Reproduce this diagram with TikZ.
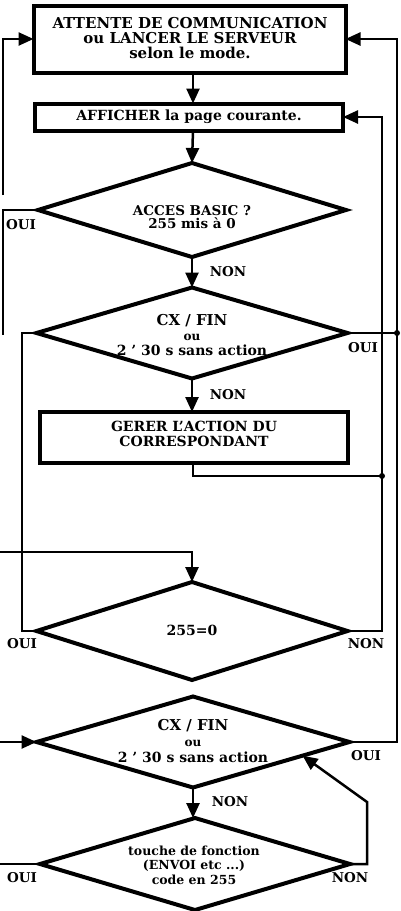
\documentclass[tikz,border=0pt]{standalone}
\usepackage{fontspec}
\setmainfont{DejaVu Serif}
\usetikzlibrary{shapes.geometric,arrows.meta,calc}
\begin{document}
\begin{tikzpicture}[x=1pt,y=-1pt,
  shapeline/.style={line width=4pt},
  boxnode/.style={draw,shapeline,rectangle,inner sep=0pt,outer sep=0pt},
  dia/.style={draw,shapeline,diamond,inner sep=0pt,outer sep=0pt,aspect=3.4},
  conn/.style={line width=2.5pt},
  arr/.style={conn,-{Triangle[length=15pt,width=13pt]}},
  txt/.style={font=\fontsize{14}{15}\selectfont\bfseries,align=center,inner sep=0pt},
  stxt/.style={font=\fontsize{12.5}{14.5}\selectfont\bfseries,align=center,inner sep=0pt},
  lbl/.style={font=\fontsize{13.5}{13}\selectfont\bfseries,inner sep=0pt},
  dot/.style={circle,fill,inner sep=0pt,minimum size=6pt}
]
\useasboundingbox (0,0) rectangle (400,911);
% shapes
\node[boxnode,minimum width=312pt,minimum height=67pt] (box1) at (189.5,39) {};
\node[boxnode,minimum width=308pt,minimum height=27pt] (box2) at (189,117) {};
\node[dia,minimum width=308pt,minimum height=94pt] (d1) at (192,210) {};
\node[dia,minimum width=311pt,minimum height=91pt] (d2) at (192,333) {};
\node[boxnode,minimum width=308pt,minimum height=51pt] (box3) at (194,437.5) {};
\node[dia,minimum width=311pt,minimum height=98pt] (d3) at (192,631) {};
\node[dia,minimum width=313pt,minimum height=91pt] (d4) at (193,742) {};
\node[dia,minimum width=310pt,minimum height=92pt] (d5) at (195,864) {};
% texts
\node[txt,font=\fontsize{15}{15}\selectfont\bfseries] (t1) at (190,38) {ATTENTE DE COMMUNICATION\\ou LANCER LE SERVEUR\\selon le mode.};
\node[txt] (t2) at (189,117) {AFFICHER la page courante.};
\node[txt,font=\fontsize{13.5}{12.5}\selectfont\bfseries] (t3) at (192,217) {ACCES BASIC ?\\255 mis à 0};
\node[txt] (t4) at (192,335) {{\fontsize{15}{14}\selectfont CX / FIN}\\{\fontsize{12}{14}\selectfont ou}\\2 ’ 30 s sans action};
\node[txt] (t5) at (194,434) {GERER L’ACTION DU\\CORRESPONDANT};
\node[txt] (t6) at (192,630) {255=0};
\node[txt,font=\fontsize{14}{16}\selectfont\bfseries] (t7) at (193,741) {{\fontsize{15}{16}\selectfont CX / FIN}\\{\fontsize{12}{16}\selectfont ou}\\2 ’ 30 s sans action};
\node[stxt] (t8) at (194,865) {touche de fonction\\(ENVOI etc ...)\\code en 255};
% labels
\node[lbl] (o1) at (21,225) {OUI};
\node[lbl] (n1) at (228,272) {NON};
\node[lbl] (o2) at (363,348) {OUI};
\node[lbl] (n2) at (228,395) {NON};
\node[lbl] (o3) at (22,644) {OUI};
\node[lbl] (n3) at (366,644) {NON};
\node[lbl] (o4) at (366,756) {OUI};
\node[lbl] (n4) at (230,802) {NON};
\node[lbl] (o5) at (22,878) {OUI};
\node[lbl] (n5) at (350,878) {NON};
% helper coordinates
\coordinate (ax) at (193,0);
\coordinate (ir) at (382,0);
\coordinate (orr) at (397,0);
\coordinate (j1) at (382,476);
\coordinate (l1) at (3,195);
\coordinate (l2) at (3,335);
\coordinate (l3) at (22,0);
\coordinate (l4) at (0,552);
\coordinate (l5) at (0,742);
\coordinate (l6) at (0,864);
\coordinate (r5) at (367,802);
\coordinate (hit) at ($(d4.east)!0.3!(d4.south)$);
% connectors
\draw[arr] (box1.south -| ax) -- (box2.north -| ax);
\draw[arr] (box2.south -| ax) -- (d1.north);
\draw[arr] (d1.south) -- (d2.north);
\draw[arr] (d2.south) -- (box3.north -| d2.south);
\draw[conn] (box3.south -| ax) -- (ax |- j1) -- (j1);
\node[dot] (dj1) at (j1) {};
\draw[arr] (d3.east) -- (d3.east -| ir) -- (box2.east -| ir) -- (box2.east);
\draw[arr] (d4.east) -- (d4.east -| orr) -- (box1.east -| orr) -- (box1.east);
\draw[conn] (d2.east) -- (d2.east -| orr);
\node[dot] (dj2) at (d2.east -| orr) {};
\draw[arr] (l1) -- (l1 |- box1.west) -- (box1.west);
\draw[conn] (d1.west) -- (d1.west -| l2) -- (l2);
\draw[conn] (d3.west) -- (d3.west -| l3) -- (d2.west -| l3) -- (d2.west);
\draw[arr] (l4) -- (l4 -| d3.north) -- (d3.north);
\draw[arr] (l5) -- (d4.west);
\draw[conn] (d5.west) -- (l6);
\draw[arr] (d5.east) -- (d5.east -| r5) -- (r5) -- (hit);
\draw[arr] (d4.south) -- (d5.north -| d4.south);
\end{tikzpicture}
\end{document}
